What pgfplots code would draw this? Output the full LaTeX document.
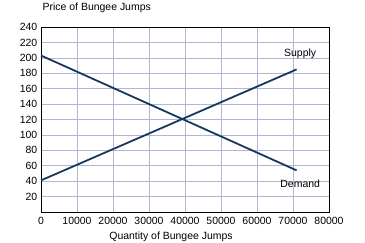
\documentclass[border=0pt]{standalone}
\usepackage{pgfplots}
\pgfplotsset{compat=1.18}
\usepackage{fontspec}
\setmainfont{Liberation Sans}
\definecolor{gridc}{HTML}{B4B4D6}
\definecolor{linec}{HTML}{17385C}
\begin{document}
\fontsize{10.5}{12}\selectfont
\begin{tikzpicture}
\path[use as bounding box] (-41bp,-31bp) rectangle (324bp,212bp);
\begin{axis}[
  at={(0,0)}, anchor=south west,
  scale only axis, width=288bp, height=185bp,
  xmin=0, xmax=80000, ymin=0, ymax=240,
  xtick={0,10000,...,80000},
  ytick={20,40,...,240},
  scaled x ticks=false,
  xticklabel style={/pgf/number format/.cd, fixed, 1000 sep={}},
  /pgf/number format/assume math mode=true,
  tick style={draw=none},
  grid=major,
  major grid style={gridc, line width=0.6pt},
  axis line style={black, line width=1pt},
  tick label style={font=\fontsize{10.5}{12}\selectfont},
  xticklabel shift=2bp,
  yticklabel shift=0bp,
  clip=false,
]
\addplot[linec, line width=1.8pt] coordinates {(0,41) (71000,185)};
\addplot[linec, line width=1.8pt] coordinates {(0,203) (71000,54)};
\node[font=\fontsize{10.5}{12}\selectfont] at (axis cs:72000,205) {Supply};
\node[font=\fontsize{10.5}{12}\selectfont] at (axis cs:72000,36) {Demand};
\end{axis}
\node[anchor=base west, font=\fontsize{10.5}{12}\selectfont] at (-2bp,201bp) {Price of Bungee Jumps};
\node[anchor=base, font=\fontsize{10.5}{12}\selectfont] at (130bp,-27bp) {Quantity of Bungee Jumps};
\end{tikzpicture}
\end{document}
